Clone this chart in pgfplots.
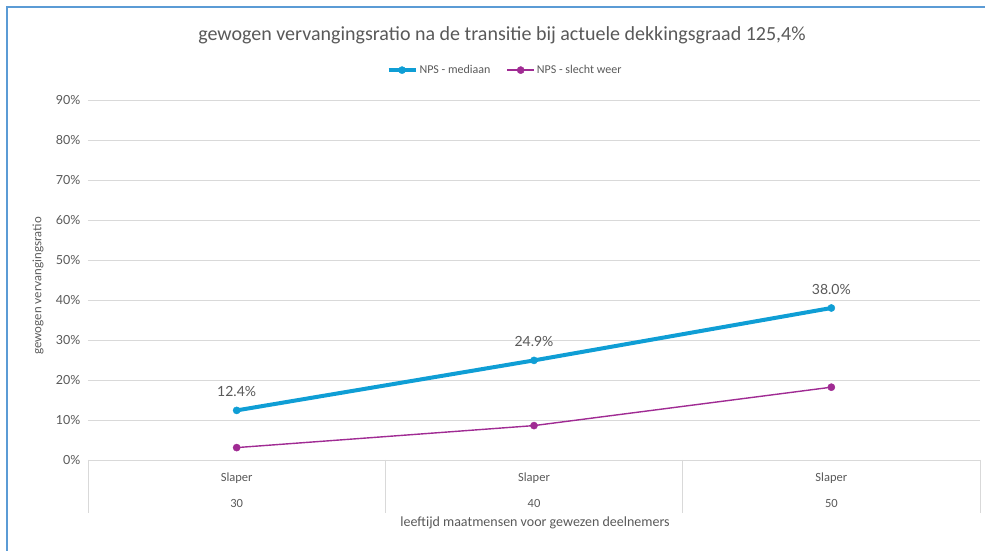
\documentclass[border=0pt]{standalone}
\usepackage{pgfplots}
\pgfplotsset{compat=1.18}
\usepackage{fontspec}
\setmainfont{Carlito}
\newfontfamily\numfont{Lato}
\definecolor{cblue}{HTML}{0F9ED5}
\definecolor{cpurple}{HTML}{A02B93}
\definecolor{tgrey}{HTML}{595959}
\definecolor{ggrey}{HTML}{D9D9D9}
\definecolor{framec}{HTML}{5B9BD5}
\begin{document}
\begin{tikzpicture}[x=1pt,y=1pt]
\path[use as bounding box] (0,0) rectangle (985,551);
\draw[framec, line width=1.5pt] (7,0) -- (7,544) -- (985,544);
\begin{axis}[
  at={(88pt,91pt)}, anchor=south west, scale only axis,
  width=892pt, height=360pt,
  xmin=-0.5, xmax=2.5, ymin=0, ymax=90,
  clip=false,
  axis x line*=bottom, axis y line*=left,
  y axis line style={draw=none},
  x axis line style={ggrey, line width=0.8pt},
  xtick=\empty,
  ytick={0,10,...,90},
  yticklabel={\pgfmathprintnumber{\tick}\%},
  yticklabel style={font=\numfont\fontsize{12.5}{14}\selectfont, text=tgrey, xshift=-4pt},
  /pgf/number format/assume math mode=true,
  major tick length=0pt,
  ymajorgrids, grid style={ggrey, line width=0.8pt},
  legend columns=2,
  legend style={at={(axis description cs:0.4675,1.083)}, anchor=center, draw=none, fill=none,
    font=\fontsize{12}{14}\selectfont, text=tgrey,
    /tikz/every even column/.append style={column sep=14pt}},
  legend cell align=left,
  legend image code/.code={\draw[mark repeat=2,mark phase=2] plot coordinates {(0pt,0pt)(13.5pt,0pt)(27pt,0pt)};},
]
\addplot[cblue, line width=4pt, mark=*, mark size=3.6pt, mark options={solid, fill=cblue, draw=cblue, line width=0.4pt},
  nodes near coords={\pgfmathprintnumber[fixed,precision=1,fixed zerofill]{\pgfplotspointmeta}\%},
  every node near coord/.style={anchor=center, yshift=19pt, font=\numfont\fontsize{14}{16}\selectfont, text=tgrey}]
  coordinates {(0,12.4) (1,24.9) (2,38.0)};
\addlegendentry{NPS - mediaan}
\addplot[cpurple, line width=1.4pt, mark=*, mark size=3.6pt, mark options={solid, fill=cpurple, draw=cpurple, line width=0.4pt}]
  coordinates {(0,3.1) (1,8.6) (2,18.2)};
\addlegendentry{NPS - slecht weer}
\foreach \xx in {-0.5,0.5,1.5,2.5} {
  \edef\temp{\noexpand\draw[ggrey, line width=0.8pt] (axis cs:\xx,0) -- ([yshift=-53pt]axis cs:\xx,0);}
  \temp
}
\foreach \xx/\lab in {0/30,1/40,2/50} {
  \edef\temp{\noexpand\node[font=\noexpand\fontsize{12.5}{14}\noexpand\selectfont, text=tgrey] at ([yshift=-18pt]axis cs:\xx,0) {Slaper};
  \noexpand\node[font=\noexpand\fontsize{12.5}{14}\noexpand\selectfont, text=tgrey] at ([yshift=-43pt]axis cs:\xx,0) {\lab};}
  \temp
}
\end{axis}
\node[font=\fontsize{14}{16}\selectfont, text=tgrey] at (535,28) {leeftijd maatmensen voor gewezen deelnemers};
\node[rotate=90, font=\numfont\fontsize{12}{14}\selectfont, text=tgrey] at (38,265) {gewogen vervangingsratio};
\node[font=\fontsize{20}{24}\selectfont, text=tgrey] at (502,516) {gewogen vervangingsratio na de transitie bij actuele dekkingsgraad 125,4\%};
\end{tikzpicture}
\end{document}
